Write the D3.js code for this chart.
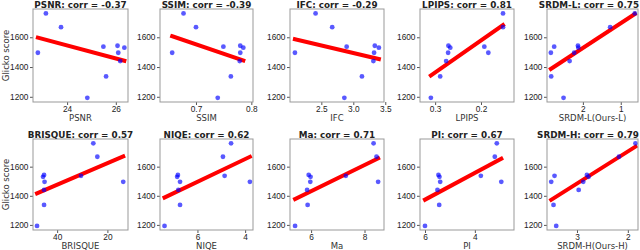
<!DOCTYPE html>
<html>
<head>
<meta charset="utf-8">
<script src="https://cdn.jsdelivr.net/npm/d3@7"></script>
<style>
  body { margin: 0; background: #fff; }
  svg { font-family: "DejaVu Sans", sans-serif; }
</style>
</head>
<body>
<script>

// Glicko score of each of the 10 methods (same order in every metric array)
const glicko = [1760, 1668, 1543, 1537, 1530, 1496, 1496, 1440, 1337, 1193];

const metrics = ['PSNR', 'SSIM', 'IFC', 'LPIPS', 'SRDM-L', 'BRISQUE', 'NIQE', 'Ma', 'PI', 'SRDM-H'];
const xLabels = ['PSNR', 'SSIM', 'IFC', 'LPIPS', 'SRDM-L(Ours-L)', 'BRISQUE', 'NIQE', 'Ma', 'PI', 'SRDM-H(Ours-H)'];
const corrs = ['-0.37', '-0.39', '-0.29', '0.81', '0.75', '0.57', '0.62', '0.71', '0.67', '0.79'];

const psnr    = [23.13, 23.75, 26.07, 25.49, 26.35, 22.8, 26.1, 26.18, 25.6, 24.83];
const ssim    = [0.6775, 0.700, 0.780, 0.7495, 0.7855, 0.657, 0.780, 0.779, 0.763, 0.7393];
const ifc     = [2.41, 2.67, 3.336, 2.896, 3.40, 2.087, 3.325, 3.314, 3.135, 2.86];
const lpips   = [0.152, 0.152, 0.271, 0.1927, 0.267, 0.184, 0.2717, 0.276, 0.289, 0.3093];
const srdmL   = [0.63, 1.28, 2.13, 2.758, 2.12, 2.845, 2.23, 2.35, 2.836, 2.51];
const brisque = [25.6, 24.0, 45.2, 30.5, 45.6, 45.0, 13.7, 45.2, 45.2, 48.0];
const niqe    = [4.59, 4.93, 6.82, 4.86, 6.85, 6.73, 3.80, 6.80, 6.73, 7.38];
const ma      = [8.34, 8.45, 5.91, 7.30, 5.98, 5.97, 8.51, 5.85, 5.87, 5.40];
const pi      = [3.12, 3.20, 5.46, 3.76, 5.42, 5.39, 2.94, 5.50, 5.43, 6.00];
const srdmH   = [1.85, 2.175, 2.805, 3.442, 2.772, 3.507, 2.877, 2.967, 3.462, 3.409];

const metricValues = [psnr, ssim, ifc, lpips, srdmL, brisque, niqe, ma, pi, srdmH];

// axis limits as shown (some axes are flipped so "better" is to the right)
const xDomains = [
  [22.6, 26.5], [0.635, 0.803], [2.01, 3.48], [0.333, 0.128], [2.947, 0.545],
  [49.6, 11.8], [7.57, 3.67], [5.21, 8.73], [6.2, 2.43], [3.59, 1.80]
];
const xTicks = [
  [24, 26], [0.7, 0.8], [2.5, 3.0, 3.5], [0.3, 0.2], [2, 1],
  [40, 20], [6, 4], [6, 8], [6, 4], [3, 2]
];
const xTickFormats = ['d', '.1f', '.1f', '.1f', 'd', 'd', 'd', 'd', 'd', 'd'];

const yDomain = [1165, 1790];
const yTicks = [1200, 1400, 1600];

const W = 640, H = 250;

const svg = d3.select('body').append('svg')
  .attr('width', W)
  .attr('height', H);

// panel boxes
const colLeft = [33, 160, 290, 420, 547];
const colWidth = [95, 93, 94, 94, 91];
const rowTop = [9, 139];
const rowHeight = [93, 91];

class panel {

  constructor(opts) {
    this.i = opts.i;
    this.x = opts.values;
    this.left = colLeft[this.i % 5];
    this.top = rowTop[Math.floor(this.i / 5)];
    this.width = colWidth[this.i % 5];
    this.height = rowHeight[Math.floor(this.i / 5)];

    this.plot = svg.append('g')
      .attr('transform', `translate(${this.left},${this.top})`);

    this.createScales();
    this.addChart();
    this.addAxes();
  }

  createScales() {
    this.xScale = d3.scaleLinear()
      .domain(xDomains[this.i])
      .range([0, this.width]);

    this.yScale = d3.scaleLinear()
      .domain(yDomain)
      .range([this.height, 0]);
  }

  addAxes() {
    const xAxis = d3.axisBottom(this.xScale)
      .tickValues(xTicks[this.i])
      .tickFormat(d3.format(xTickFormats[this.i]))
      .tickSizeOuter(0)
      .tickSize(3)
      .tickPadding(1.5);

    const yAxis = d3.axisLeft(this.yScale)
      .tickValues(yTicks)
      .tickFormat(d3.format('d'))
      .tickSizeOuter(0)
      .tickSize(3)
      .tickPadding(1.5);

    const gx = this.plot.append('g')
      .attr('transform', `translate(0,${this.height})`)
      .call(xAxis);
    const gy = this.plot.append('g').call(yAxis);

    [gx, gy].forEach(g => {
      g.select('.domain').remove();
      g.selectAll('line').attr('stroke', '#555');
      g.selectAll('text')
        .attr('fill', '#222')
        .style('font-size', '8.3px');
    });

    // frame
    this.plot.append('rect')
      .attr('width', this.width)
      .attr('height', this.height)
      .attr('fill', 'none')
      .attr('stroke', '#999')
      .attr('stroke-width', 1);

    // title, kept inside the picture at the right edge
    const title = this.plot.append('text')
      .attr('x', this.width / 2)
      .attr('y', -1.5)
      .attr('text-anchor', 'middle')
      .attr('font-weight', 'bold')
      .attr('fill', '#222')
      .style('font-size', '8.8px')
      .text(`${metrics[this.i]}: corr = ${corrs[this.i]}`);

    const tw = title.node().getComputedTextLength();
    const overflow = this.left + this.width / 2 + tw / 2 - (W - 1);
    if (overflow > 0) title.attr('x', this.width / 2 - overflow);

    // x label
    this.plot.append('text')
      .attr('x', this.width / 2)
      .attr('y', this.height + 19)
      .attr('text-anchor', 'middle')
      .attr('fill', '#333')
      .style('font-size', '8.5px')
      .text(xLabels[this.i]);

    // y label on first column
    if (this.i % 5 === 0) {
      this.plot.append('text')
        .attr('transform', `translate(${9 - this.left},${this.height / 2}) rotate(-90)`)
        .attr('text-anchor', 'middle')
        .attr('fill', '#333')
        .style('font-size', '8.5px')
        .text('Glicko score');
    }
  }

  addChart() {
    const pts = this.x.map((v, k) => ({ x: v, y: glicko[k] }));

    // least squares fit over the data range
    const mx = d3.mean(pts, d => d.x);
    const my = d3.mean(pts, d => d.y);
    const slope = d3.sum(pts, d => (d.x - mx) * (d.y - my)) /
                  d3.sum(pts, d => (d.x - mx) * (d.x - mx));
    const ext = d3.extent(pts, d => d.x);
    const fit = ext.map(v => ({ x: v, y: my + slope * (v - mx) }));

    this.plot.append('path')
      .datum(fit)
      .attr('d', d3.line().x(d => this.xScale(d.x)).y(d => this.yScale(d.y)))
      .attr('stroke', '#ff0000')
      .attr('stroke-width', 4)
      .attr('stroke-linecap', 'square')
      .attr('fill', 'none');

    this.plot.selectAll('.dot')
      .data(pts)
      .enter().append('circle')
        .attr('class', 'dot')
        .attr('cx', d => this.xScale(d.x))
        .attr('cy', d => this.yScale(d.y))
        .attr('r', 2.4)
        .style('fill', '#0000ff')
        .style('opacity', 0.65);
  }

}

metricValues.forEach((values, i) => new panel({ i: i, values: values }));

</script>
</body>
</html>
